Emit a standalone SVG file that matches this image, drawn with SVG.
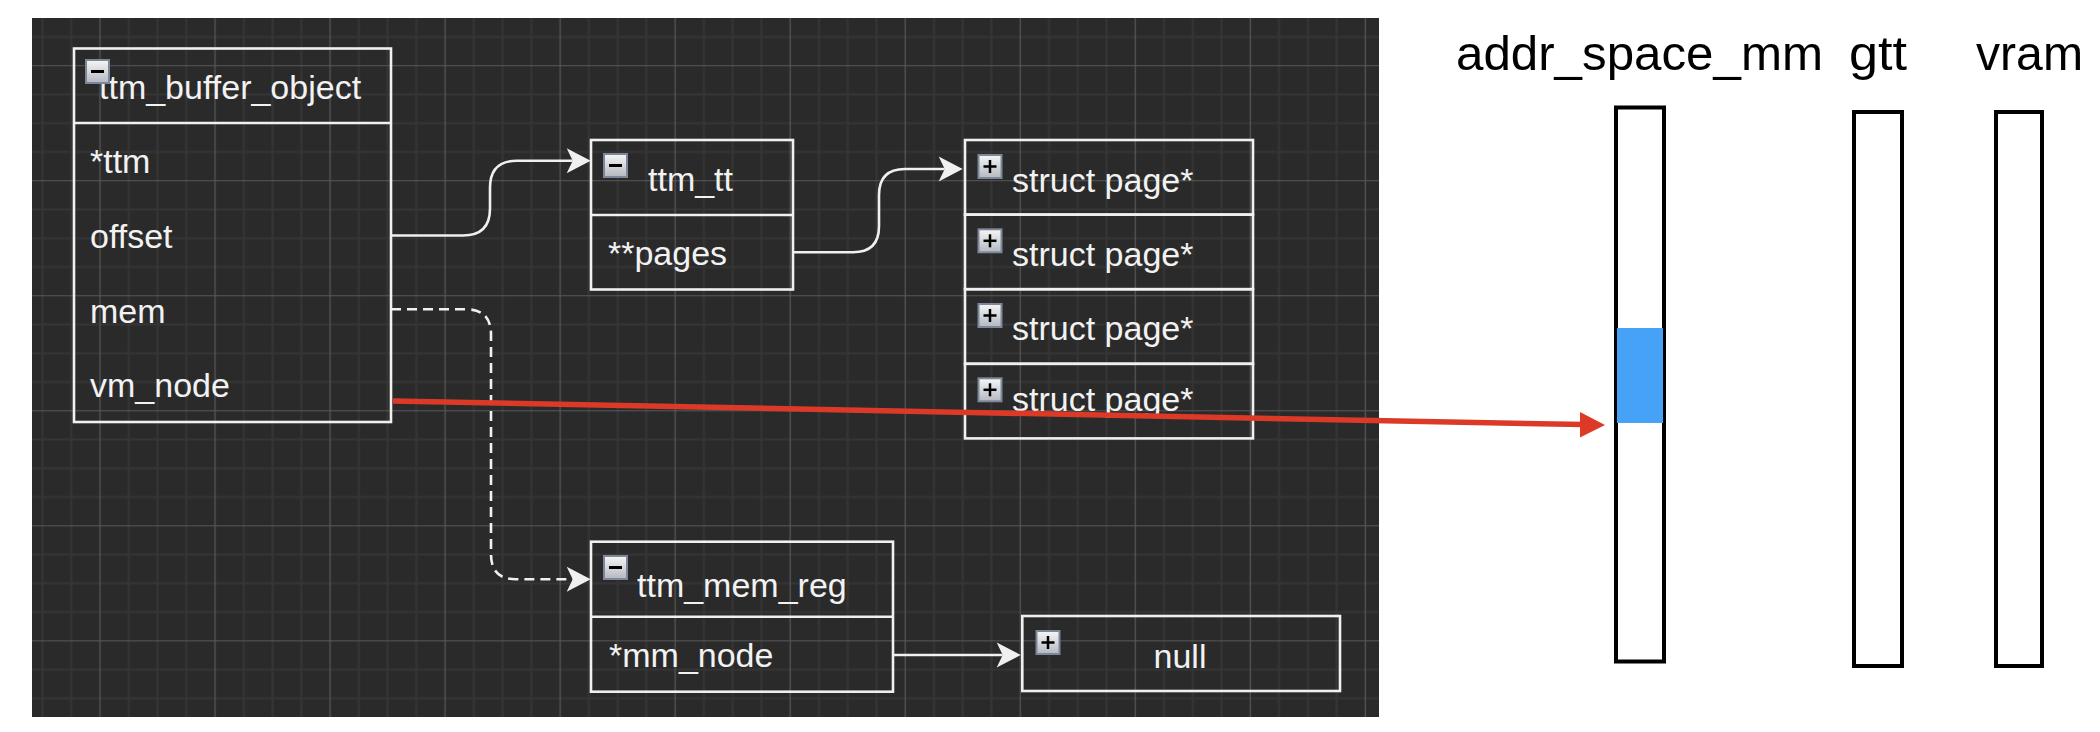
<svg xmlns="http://www.w3.org/2000/svg" xmlns:xlink="http://www.w3.org/1999/xlink" width="2100" height="732" viewBox="0 0 2100 732">
<style>
.lbl{font-family:"Liberation Sans",Arial,Helvetica,sans-serif;font-size:34px;fill:#f2f2f2}
.big{font-family:"Liberation Sans",Arial,Helvetica,sans-serif;font-size:48px;fill:#000}
.box{fill:none;stroke:#f0f0f0;stroke-width:2.6}
.con{fill:none;stroke:#f0f0f0;stroke-width:2.6}
.dash{stroke-dasharray:10 6}
.bar{fill:#fff;stroke:#000;stroke-width:4}
</style>
<defs>
<pattern id="grid" patternUnits="userSpaceOnUse" x="85.62" y="51.32" width="115.03" height="115.03">
<rect width="115.03" height="115.03" fill="#2a2a2a"/>
<g stroke="#353535" stroke-width="2">
<line x1="43.14" y1="0" x2="43.14" y2="115.03"/>
<line x1="71.9" y1="0" x2="71.9" y2="115.03"/>
<line x1="100.65" y1="0" x2="100.65" y2="115.03"/>
<line x1="0" y1="43.14" x2="115.03" y2="43.14"/>
<line x1="0" y1="71.9" x2="115.03" y2="71.9"/>
<line x1="0" y1="100.65" x2="115.03" y2="100.65"/>
</g>
<g stroke="#585858" stroke-width="1.2">
<line x1="14.38" y1="0" x2="14.38" y2="115.03"/>
<line x1="0" y1="14.38" x2="115.03" y2="14.38"/>
</g>
</pattern>
<linearGradient id="ig" x1="0" y1="0" x2="0" y2="1">
<stop offset="0" stop-color="#f6f6f6"/>
<stop offset="1" stop-color="#b4b8c0"/>
</linearGradient>
<g id="minus">
<rect x="1" y="1" width="23" height="23" fill="url(#ig)" stroke="#7d879a" stroke-width="2"/>
<line x1="6" y1="12.5" x2="19" y2="12.5" stroke="#000" stroke-width="3"/>
</g>
<g id="plus">
<rect x="1" y="1" width="23" height="23" fill="url(#ig)" stroke="#7d879a" stroke-width="2"/>
<line x1="6" y1="12.5" x2="19" y2="12.5" stroke="#000" stroke-width="2.5"/>
<line x1="12.5" y1="6" x2="12.5" y2="19" stroke="#000" stroke-width="2.5"/>
</g>
<marker id="wa" markerUnits="userSpaceOnUse" markerWidth="26" markerHeight="28" refX="6" refY="13" orient="auto" overflow="visible">
<path d="M0,0.5 L24,13 L0,25.5 L6,13 Z" fill="#f0f0f0" stroke="none"/>
</marker>
</defs>

<rect x="0" y="0" width="2100" height="732" fill="#fff"/>
<rect id="panel" x="32" y="18" width="1347" height="699" fill="url(#grid)"/>

<g id="connectors">
<path class="con" d="M391,235.5 H463 Q490,235.5 490,208.5 V187.7 Q490,160.7 517,160.7 H572.7" marker-end="url(#wa)"/>
<path class="con" d="M793,252.3 H853 Q879,252.3 879,226.3 V195 Q879,169 905,169 H944.7" marker-end="url(#wa)"/>
<path class="con dash" d="M391,309.3 H466 Q491,309.3 491,334.3 V554.3 Q491,579.3 516,579.3 H572.7" marker-end="url(#wa)"/>
<path class="con" d="M893,655 H1002.7" marker-end="url(#wa)"/>
</g>

<g id="ttm_buffer_object">
<rect class="box" x="74" y="48.5" width="317" height="373.5"/>
<line class="box" x1="74" y1="123" x2="391" y2="123"/>
<text class="lbl" x="99" y="99">ttm_buffer_object</text>
<use href="#minus" x="85" y="59"/>
<text class="lbl" x="90" y="173">*ttm</text>
<text class="lbl" x="90" y="248">offset</text>
<text class="lbl" x="90" y="323">mem</text>
<text class="lbl" x="90" y="397">vm_node</text>
</g>

<g id="ttm_tt">
<rect class="box" x="591" y="140" width="202" height="149.5"/>
<line class="box" x1="591" y1="215" x2="793" y2="215"/>
<use href="#minus" x="603" y="153"/>
<text class="lbl" x="648" y="191">ttm_tt</text>
<text class="lbl" x="608" y="265">**pages</text>
</g>

<g id="struct_pages">
<rect class="box" x="965" y="140" width="288" height="74.6"/>
<rect class="box" x="965" y="214.6" width="288" height="74.6"/>
<rect class="box" x="965" y="289.2" width="288" height="74.6"/>
<rect class="box" x="965" y="363.8" width="288" height="74.6"/>
<use href="#plus" x="977.5" y="154"/>
<use href="#plus" x="977.5" y="228.3"/>
<use href="#plus" x="977.5" y="303"/>
<use href="#plus" x="977.5" y="377.3"/>
<text class="lbl" x="1012" y="192">struct page*</text>
<text class="lbl" x="1012" y="266">struct page*</text>
<text class="lbl" x="1012" y="340">struct page*</text>
<text class="lbl" x="1012" y="411">struct page*</text>
</g>

<g id="ttm_mem_reg">
<rect class="box" x="591" y="541.7" width="302" height="150"/>
<line class="box" x1="591" y1="616.7" x2="893" y2="616.7"/>
<use href="#minus" x="603" y="555"/>
<text class="lbl" x="637" y="597">ttm_mem_reg</text>
<text class="lbl" x="609" y="667">*mm_node</text>
</g>

<g id="null_node">
<rect class="box" x="1022.3" y="616" width="317.7" height="75"/>
<use href="#plus" x="1035.5" y="630"/>
<text class="lbl" x="1180" y="668" text-anchor="middle">null</text>
</g>

<g id="addr_space_mm">
<rect class="bar" x="1616" y="107.5" width="48" height="554"/>
<rect x="1617" y="328" width="46" height="95" fill="#45a2f7"/>
<text class="big" x="1456" y="70" textLength="367" lengthAdjust="spacingAndGlyphs">addr_space_mm</text>
</g>
<g id="gtt">
<rect class="bar" x="1854" y="112" width="48" height="554"/>
<text class="big" x="1849" y="70" textLength="58" lengthAdjust="spacingAndGlyphs">gtt</text>
</g>
<g id="vram">
<rect class="bar" x="1996" y="112" width="46" height="554"/>
<text class="big" x="1976" y="70" textLength="107" lengthAdjust="spacingAndGlyphs">vram</text>
</g>

<g id="vm_node_link">
<line x1="393" y1="401" x2="1584" y2="424.6" stroke="#dc3a27" stroke-width="5.5"/>
<polygon points="1605,425 1580,412 1580,437.5" fill="#dc3a27"/>
</g>
</svg>
